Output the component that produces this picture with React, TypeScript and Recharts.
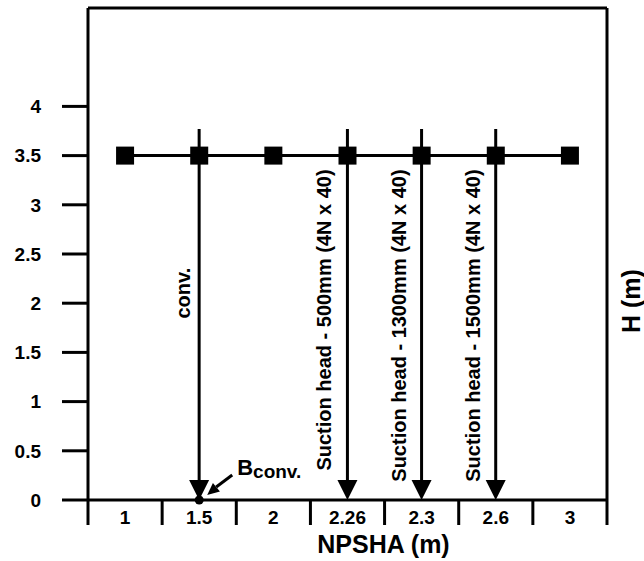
import {
  Bar,
  ComposedChart,
  Label,
  Line,
  ReferenceLine,
  XAxis,
  YAxis,
} from 'recharts'

// NPSHA categories on the x axis
const categories = ['1', '1.5', '2', '2.26', '2.3', '2.6', '3']
// H (m) at each NPSHA value
const hValues = [3.5, 3.5, 3.5, 3.5, 3.5, 3.5, 3.5]
// vertical arrows: start value (drawn down to 0)
const arrowFrom = [null, 3.77, null, 3.77, 3.77, 3.77, null]
const arrowLabels = [
  '',
  'conv.',
  '',
  'Suction head - 500mm (4N x 40)',
  'Suction head - 1300mm (4N x 40)',
  'Suction head - 1500mm (4N x 40)',
  '',
]
// B_conv point
const bPoint = [null, 0, null, null, null, null, null]
const yTicks = [0, 0.5, 1, 1.5, 2, 2.5, 3, 3.5, 4]

const data = categories.map((c, i) => ({
  x: c,
  h: hValues[i],
  arrow: arrowFrom[i],
  label: arrowLabels[i],
  b: bPoint[i],
}))

const W = 644
const H = 561
const M = { top: 8, right: 0, bottom: 0, left: 0 }
const Y_AXIS_W = 88
const R_AXIS_W = 37
const X_AXIS_H = 61
const PLOT_W = W - Y_AXIS_W - R_AXIS_W
const BAND = PLOT_W / categories.length
const FONT = '"Liberation Sans", Arial, Helvetica, sans-serif'
const INK = '#000'

// where each arrow label ends (value units) and its gap from the arrow
const LABEL_LAYOUT: Record<string, { end: number; gap: number }> = {
  'conv.': { end: 2.36, gap: 9 },
  default: { end: 3.36, gap: 16 },
}

function XTick(props: any) {
  const { x, y, payload, index } = props
  const last = index === categories.length - 1
  return (
    <g>
      <line x1={x - BAND / 2} y1={y} x2={x - BAND / 2} y2={y + 25} stroke={INK} strokeWidth={3} />
      {last && (
        <line x1={x + BAND / 2} y1={y} x2={x + BAND / 2} y2={y + 25} stroke={INK} strokeWidth={3} />
      )}
      <text
        x={x}
        y={y + 24}
        textAnchor="middle"
        fontFamily={FONT}
        fontWeight={700}
        fontSize={19}
        fill={INK}
      >
        {payload.value}
      </text>
    </g>
  )
}

function ArrowShape(props: any) {
  const { x, y, width, height, payload } = props
  if (payload?.arrow == null || !height) return <g />
  const cx = x + width / 2
  const base = y + height
  const perUnit = height / payload.arrow
  const lay = LABEL_LAYOUT[payload.label] ?? LABEL_LAYOUT.default
  const tx = cx - lay.gap
  const ty = base - lay.end * perUnit
  return (
    <g>
      <line x1={cx} y1={y} x2={cx} y2={base - 18} stroke={INK} strokeWidth={3} />
      <polygon points={`${cx - 10},${base - 20} ${cx + 10},${base - 20} ${cx},${base}`} fill={INK} />
      <text
        x={tx}
        y={ty}
        transform={`rotate(-90, ${tx}, ${ty})`}
        textAnchor="end"
        fontFamily={FONT}
        fontWeight={700}
        fontSize={20}
        fill={INK}
      >
        {payload.label}
      </text>
    </g>
  )
}

function SquareDot(props: any) {
  const { cx, cy, index } = props
  if (cx == null || cy == null) return <g key={`s${index}`} />
  return <rect key={`s${index}`} x={cx - 9} y={cy - 9} width={18} height={18} fill={INK} />
}

function BDot(props: any) {
  const { cx, cy, value, index } = props
  if (value == null || cx == null || cy == null || Number.isNaN(cy)) return <g key={`b${index}`} />
  return (
    <g key={`b${index}`}>
      <circle cx={cx} cy={cy} r={4.5} fill={INK} />
      <line x1={cx + 33} y1={cy - 25} x2={cx + 17} y2={cy - 13} stroke={INK} strokeWidth={3} />
      <polygon
        points={`${cx + 8},${cy - 5} ${cx + 20.7},${cy - 8.5} ${cx + 13.7},${cy - 16.9}`}
        fill={INK}
      />
      <text x={cx + 38} y={cy - 25} fontFamily={FONT} fontWeight={700} fontSize={22} fill={INK}>
        B
        <tspan fontSize={19} dy={3}>
          conv.
        </tspan>
      </text>
    </g>
  )
}

export default function App() {
  return (
    <div style={{ position: 'absolute', left: 0, top: 0, width: W, height: H, background: '#fff' }}>
      <ComposedChart width={W} height={H} data={data} margin={M}>
        <XAxis
          dataKey="x"
          xAxisId="x"
          height={X_AXIS_H}
          interval={0}
          tickSize={0}
          tickMargin={0}
          tickLine={false}
          axisLine={{ stroke: INK, strokeWidth: 3 }}
          tick={<XTick />}
        >
          <Label
            content={({ viewBox }: any) => (
              <text
                x={viewBox.x + viewBox.width / 2 + 36}
                y={viewBox.y + 53}
                textAnchor="middle"
                fontFamily={FONT}
                fontWeight={700}
                fontSize={25}
                fill={INK}
              >
                NPSHA (m)
              </text>
            )}
          />
        </XAxis>
        <YAxis
          yAxisId="l"
          width={Y_AXIS_W}
          domain={[0, 5]}
          ticks={yTicks}
          interval={0}
          tickSize={26}
          tickMargin={21}
          tickLine={{ stroke: INK, strokeWidth: 3 }}
          axisLine={{ stroke: INK, strokeWidth: 3 }}
          tick={{ fill: INK, fontSize: 19, fontWeight: 700, fontFamily: FONT }}
        />
        <YAxis
          yAxisId="r"
          orientation="right"
          width={R_AXIS_W}
          domain={[0, 5]}
          tick={false}
          tickLine={false}
          axisLine={{ stroke: INK, strokeWidth: 3 }}
        >
          <Label
            content={({ viewBox }: any) => {
              const lx = viewBox.x + 33
              const ly = viewBox.y + viewBox.height / 2 + 47
              return (
                <text
                  x={lx}
                  y={ly}
                  transform={`rotate(-90, ${lx}, ${ly})`}
                  textAnchor="middle"
                  fontFamily={FONT}
                  fontWeight={700}
                  fontSize={25}
                  fill={INK}
                >
                  H (m)
                </text>
              )
            }}
          />
        </YAxis>
        <ReferenceLine yAxisId="l" xAxisId="x" y={5} stroke={INK} strokeWidth={3} />
        <Bar
          xAxisId="x"
          yAxisId="l"
          dataKey="arrow"
          barSize={20}
          shape={<ArrowShape />}
          isAnimationActive={false}
        />
        <Line
          xAxisId="x"
          yAxisId="l"
          dataKey="h"
          stroke={INK}
          strokeWidth={3}
          dot={<SquareDot />}
          activeDot={false}
          isAnimationActive={false}
        />
        <Line
          xAxisId="x"
          yAxisId="l"
          dataKey="b"
          stroke="none"
          dot={<BDot />}
          activeDot={false}
          isAnimationActive={false}
        />
      </ComposedChart>
    </div>
  )
}
